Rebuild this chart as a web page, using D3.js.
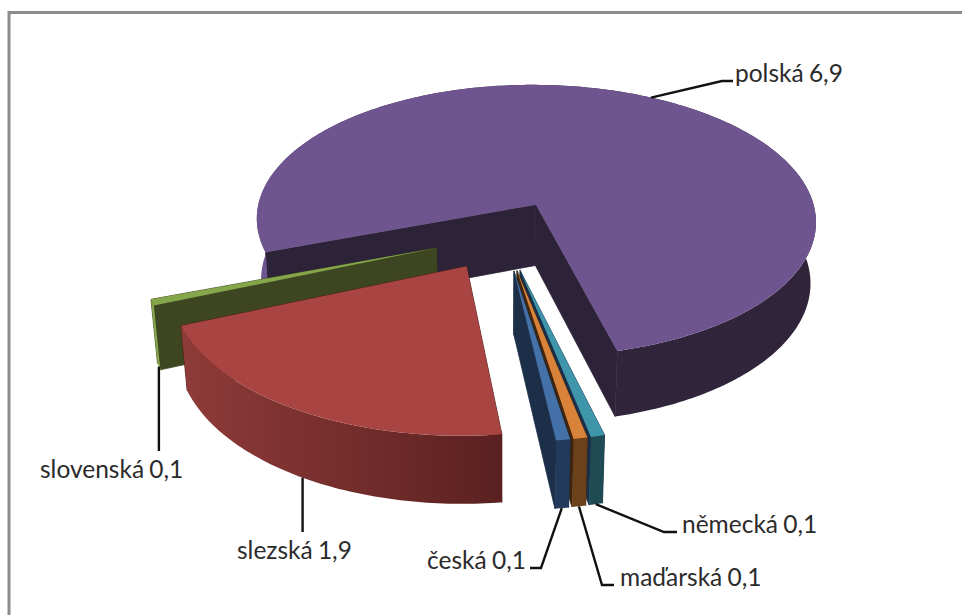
<!DOCTYPE html>
<html>
<head>
<meta charset="utf-8">
<style>
  html, body { margin: 0; padding: 0; background: #fff; }
  svg { display: block; }
  text { font-family: Lato, "Open Sans", sans-serif; font-size: 24.5px; word-spacing: -1px; fill: #2b2b2b; }
</style>
<script src="https://cdn.jsdelivr.net/npm/d3@7"></script>
</head>
<body>
<script>
// order is clockwise starting from the cut on the left of the big slice
var categories = ['polská', 'německá', 'maďarská', 'česká', 'slezská', 'slovenská'];
var values = [6.9, 0.061, 0.061, 0.061, 1.865, 0.061];
var topColors = ['#6f5590', '#3f96ab', '#d8823a', '#4472a8', '#a84442', '#85a64a'];
var sideColors = ['#2d2339', '#1b2f49', '#3d2510', '#1b2f49', '#4a1c1a', '#3d4621'];
// outer wall shade, left end and right end
var wallLeft = ['#6f5590', '#1f4b54', '#6c411a', '#223a5c', '#8f3b39', '#85a64a'];
var wallRight = ['#2f2439', '#1f4b54', '#6c411a', '#223a5c', '#5a2120', '#85a64a'];
// label positions
var labelX = [735, 682, 620, 427, 237, 40];
var labelY = [82, 533, 586, 569, 559, 478];

var w = 962;
var h = 615;
var ox = 503.5, oy = 235;  // screen position of the undisturbed pie centre
var rx = 285, ry = 141;    // pie radius on screen
var depth = 63;            // thickness of the pie
var persp = 0.12;          // nearer things look bigger
var perspZ = 0.018;        // lower things look smaller
var explode = 0.25;

var svg = d3.select('body').append('svg')
  .attr('width', w)
  .attr('height', h);

svg.append('path')
  .attr('d', 'M9,615V12.5H962')
  .attr('fill', 'none')
  .attr('stroke', '#8c8c8c')
  .attr('stroke-width', 3);

var defs = svg.append('defs');

var pie = d3.pie()
  .value(function(d) { return d; })
  .sort(null)
  .startAngle(-110 * Math.PI / 180)
  .endAngle(250 * Math.PI / 180);

var arcs = pie(values);

function project(u, v, z) {
  var q = 1 - persp * v + perspZ * z;
  return [ox + rx * u / q, oy + (ry * v + depth * z) / q];
}

// point of a slice at radius r and angle a, z is 0 on top and 1 on the bottom
function slicePoint(d, r, a, z) {
  var mid = (d.startAngle + d.endAngle) / 2;
  var u = explode * Math.sin(mid) + r * Math.sin(a);
  var v = -explode * Math.cos(mid) - r * Math.cos(a);
  return project(u, v, z);
}

function arcAngles(a0, a1) {
  var n = Math.max(2, Math.ceil(Math.abs(a1 - a0) * 60));
  return d3.range(n + 1).map(function(i) { return a0 + (a1 - a0) * i / n; });
}

var line = d3.line();

function topPath(d) {
  var pts = [slicePoint(d, 0, 0, 0)];
  arcAngles(d.startAngle, d.endAngle).forEach(function(a) {
    pts.push(slicePoint(d, 1, a, 0));
  });
  return line(pts) + 'Z';
}

function wallPath(d) {
  var angles = arcAngles(d.startAngle, d.endAngle);
  var pts = angles.map(function(a) { return slicePoint(d, 1, a, 0); });
  angles.slice().reverse().forEach(function(a) {
    pts.push(slicePoint(d, 1, a, 1));
  });
  return line(pts) + 'Z';
}

function radialPath(d, a) {
  return line([
    slicePoint(d, 0, a, 0), slicePoint(d, 1, a, 0),
    slicePoint(d, 1, a, 1), slicePoint(d, 0, a, 1)
  ]) + 'Z';
}

// the far slices first, so the nearer ones cover them
var drawOrder = [0, 5, 4, 1, 2, 3];

drawOrder.forEach(function(i) {
  var d = arcs[i];
  var xs = arcAngles(d.startAngle, d.endAngle).map(function(a) {
    return slicePoint(d, 1, a, 0)[0];
  });
  var grad = defs.append('linearGradient')
    .attr('id', 'wall' + i)
    .attr('gradientUnits', 'userSpaceOnUse')
    .attr('x1', d3.min(xs))
    .attr('x2', d3.max(xs))
    .attr('y1', 0)
    .attr('y2', 0);
  // the big slice goes dark quickly, its wall is only lit at the far left
  var stops = i === 0 ? [[0, wallLeft[i]], [0.05, wallLeft[i]], [0.3, '#33263f'], [1, wallRight[i]]]
    : [[0, wallLeft[i]], [1, wallRight[i]]];
  stops.forEach(function(s) {
    grad.append('stop').attr('offset', s[0]).attr('stop-color', s[1]);
  });

  var g = svg.append('g');
  [d.startAngle, d.endAngle].forEach(function(a) {
    g.append('path')
      .attr('d', radialPath(d, a))
      .attr('fill', sideColors[i])
      .attr('stroke', sideColors[i])
      .attr('stroke-width', 0.8);
  });
  g.append('path').attr('d', wallPath(d)).attr('fill', 'url(#wall' + i + ')');
  g.append('path').attr('d', topPath(d)).attr('fill', topColors[i]);
});

// leader lines: from the slice edge over the bend to the end by the label
var leaderAngles = [28, null, null, null, 210, null];
var leaderBend = [[722, 81], [664, 532], [602, 585], [541, 568], null, null];
var leaderEnd = [[733, 81], [677, 532], [614, 585], [530, 568], [null, 532], [null, 451]];

leaderEnd.forEach(function(e, i) {
  var d = arcs[i];
  var a = leaderAngles[i] !== null ? leaderAngles[i] * Math.PI / 180 : (d.startAngle + d.endAngle) / 2;
  var start = slicePoint(d, 1, a, i === 0 ? 0 : 1);
  // the two on the left run straight down
  var pts = leaderBend[i] ? [start, leaderBend[i], e] : [start, [start[0], e[1]]];
  svg.append('path')
    .attr('d', line(pts))
    .attr('fill', 'none')
    .attr('stroke', '#111')
    .attr('stroke-width', 2.4);
});

var fmt = d3.formatLocale({ decimal: ',', thousands: ' ', grouping: [3], currency: ['', ''] }).format('.1f');

svg.selectAll('text.label')
  .data(categories)
  .enter()
  .append('text')
  .attr('class', 'label')
  .attr('x', function(d, i) { return labelX[i]; })
  .attr('y', function(d, i) { return labelY[i]; })
  .text(function(d, i) { return d + ' ' + fmt(values[i]); });
</script>
</body>
</html>
